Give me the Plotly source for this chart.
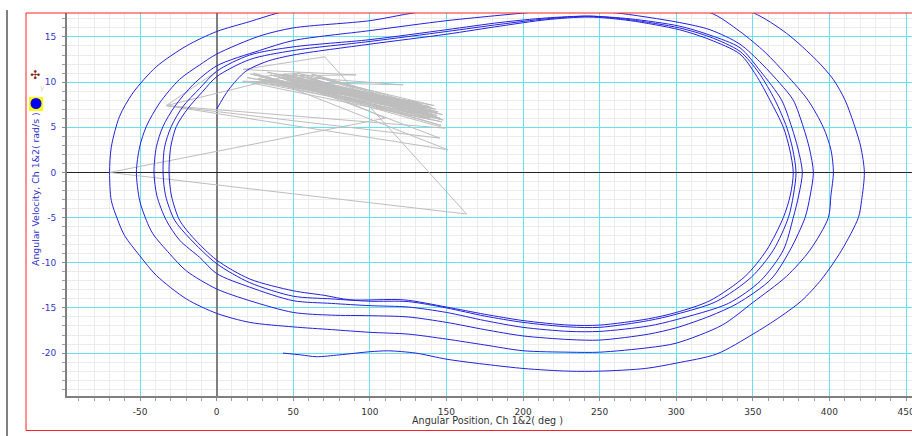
import plotly.graph_objects as go

# ---------------- data ----------------
x_tick_vals = [-50, 0, 50, 100, 150, 200, 250, 300, 350, 400, 450]
x_tick_text = ["-50", "0", "50", "100", "150", "200", "250", "300", "350", "400", "450"]
y_tick_vals = [-20, -15, -10, -5, 0, 5, 10, 15]
y_tick_text = ["-20", "-15", "-10", "-5", "0", "5", "10", "15"]

# blue phase trajectory, split into top (T) and bottom (B) half loops
t1_x = [0, 8, 19, 33, 50, 100, 150, 185, 215, 243, 270, 302, 322, 341.6, 352, 361.2, 369.9, 374, 376.4]
t1_y = [7, 9.2, 11.2, 12.3, 13.0, 14.2, 15.3, 16.2, 16.9, 17.2, 16.8, 15.8, 14.7, 13.1, 10.8, 8.0, 5.0, 2.6, 0]
b1_x = [376.4, 374.5, 369.9, 359, 345, 322, 300, 282, 250, 230, 200, 175, 150, 122, 87, 70, 50, 21.6, 0, -15.5, -24.2, -29.5, -31.1]
b1_y = [0, -2.5, -5, -8.6, -11.5, -14.2, -15.5, -16.2, -16.9, -16.9, -16.4, -15.7, -14.9, -14.1, -14.1, -13.6, -13.1, -11.8, -9.7, -7.2, -5.3, -2.6, 0]

t2_x = [-31.1, -30, -26.3, -18.7, -8.9, 0, 21.6, 50, 100, 150, 185, 215, 243, 270, 302, 322, 341.6, 354, 364.5, 372.1, 376, 378.2]
t2_y = [0, 2.8, 5.1, 7.1, 9.0, 10.6, 12.5, 13.5, 14.5, 15.6, 16.4, 17.0, 17.3, 16.9, 16.0, 15.0, 13.4, 11.0, 8.0, 5.0, 2.6, 0]
b2_x = [378.2, 376.5, 373.2, 363.4, 349, 326, 300, 282, 250, 230, 200, 175, 150, 125, 100, 75, 50, 21.6, 0, -17.6, -27.4, -33.3, -35]
b2_y = [0, -2.5, -5, -8.6, -11.6, -14.3, -15.7, -16.4, -17.15, -17.1, -16.6, -15.9, -15.0, -14.3, -14.26, -14.0, -13.7, -12.2, -10.1, -7.3, -5.3, -2.6, 0]

t3_x = [-35, -34, -29.6, -22, -11.1, 0, 21.6, 50, 100, 150, 185, 215, 243, 270, 302, 322, 341.6, 355, 368.8, 375.4, 379.5, 382.3]
t3_y = [0, 2.8, 5.1, 7.3, 9.3, 11.2, 13.0, 13.9, 14.7, 15.8, 16.6, 17.1, 17.3, 17.0, 16.2, 15.2, 13.8, 11.2, 8.0, 5.0, 2.6, 0]
b3_x = [382.3, 380, 376.4, 369.9, 355, 334, 300, 282, 250, 230, 200, 175, 150, 125, 100, 75, 50, 21.6, 0, -11.1, -24.2, -32.9, -39, -40.9]
b3_y = [0, -2.5, -5, -8.6, -12.0, -14.5, -16.3, -17.0, -17.6, -17.6, -17.15, -16.4, -15.5, -14.9, -14.75, -14.5, -14.2, -12.7, -11.2, -9.4, -7.5, -5.3, -2.6, 0]

t4_x = [-40.9, -39.4, -35, -27.4, -15.5, 0, 28, 50, 100, 150, 185, 204, 230, 259, 302, 322, 341.6, 356, 368, 376.4, 383, 387, 389.5]
t4_y = [0, 2.8, 5.1, 7.3, 9.7, 11.8, 13.5, 14.6, 15.7, 16.8, 17.4, 17.7, 18.0, 17.7, 16.6, 15.8, 14.2, 12.0, 9.8, 8.0, 5.0, 2.6, 0]
b4_x = [389.5, 387.5, 384.1, 374.3, 362, 340, 322, 300, 282, 250, 230, 200, 175, 150, 125, 100, 75, 50, 21.6, 0, -19.8, -30.7, -41.6, -45.9, -50.3, -52.4]
b4_y = [0, -2.5, -5, -8.6, -11.8, -14.5, -15.9, -17.2, -17.9, -18.56, -18.5, -18.1, -17.4, -16.6, -16.0, -15.86, -15.8, -15.5, -14.2, -12.9, -10.9, -9.0, -6.8, -5.3, -3.1, 0]

t5_x = [-52.4, -50.3, -45.9, -37.2, -24.2, -11.1, 0, 28, 50, 100, 130, 180, 230, 280, 322, 341.6, 358, 372, 386, 396, 401, 402.6]
t5_y = [0, 2.8, 5.1, 7.7, 10.3, 11.9, 13.1, 15.1, 16.0, 16.8, 17.7, 18.6, 19.0, 18.7, 17.7, 15.6, 13.3, 10.8, 8.0, 5.0, 2.5, 0]
b5_x = [402.6, 401, 399.3, 387.3, 372, 350, 330, 300, 282, 250, 230, 200, 175, 150, 125, 100, 75, 50, 21.6, 0, -19.8, -39.4, -50.3, -60.1, -64.5, -68.8, -69.9]
b5_y = [0, -2.5, -5, -8.6, -11.5, -14.4, -16.9, -18.9, -19.4, -19.9, -19.9, -19.74, -19.1, -18.45, -17.9, -17.7, -17.4, -17.1, -16.6, -15.6, -14.0, -11.4, -9.2, -7.0, -5.3, -3.1, 0]

t6_x = [-69.9, -68.8, -63.4, -54.7, -39.4, -19.8, 0, 21.6, 41, 100, 200, 300, 350, 372, 391.7, 402.5, 410.2, 416.7, 420.5, 422.8]
t6_y = [0, 2.8, 6.2, 8.8, 11.7, 14.0, 15.6, 16.7, 17.7, 20.0, 21.5, 20.0, 17.7, 15.4, 12.4, 10.3, 8.0, 5.0, 2.8, 0]
b6_x = [422.8, 421, 418.9, 408, 395, 381.9, 367.7, 350.1, 326.4, 300.3, 280, 250, 230, 200, 151, 130, 112, 100, 80, 65, 55, 43.3]
b6_y = [0, -3.1, -5, -8.6, -11.8, -14.2, -16.0, -17.9, -20.1, -21.1, -21.7, -22.0, -22.0, -21.7, -20.7, -20.0, -19.75, -19.85, -20.2, -20.4, -20.2, -20.0]

# grey noisy channel
gray_x = [2, -32.9, 145.7, 40, 139, 30, 144.5, 50, 142.4, 25, 135, 45, 140, 35, 146, 60, 138, 20,
          143, 55, 130, 38, 149, -32.9, 54.2, 28, 141, 48, 136, 65, 144, 32, 147, 17, 121.7, 42,
          91, 17.2, 70.5, 163.1, -70, 110, 52, 146, 44, 137, 58, 139.5, 22, 147.5, 33, 133, 47,
          148, 27, 141, 62, 145, 36, 138.5, 53, 142, 41, 146.5, 24, 151, -32.9]
gray_y = [11.4, 7.4, 3.8, 10.6, 7.3, 10.3, 6.7, 10.9, 6.2, 10.0, 7.4, 10.5, 6.9, 10.8, 6.0, 10.4, 6.6, 10.5,
          7.0, 10.1, 7.8, 10.2, 4.9, 7.4, 11.0, 10.6, 6.4, 10.2, 7.2, 10.6, 6.3, 10.0, 5.6, 10.1, 9.7, 10.7,
          10.8, 11.4, 12.8, -4.6, 0, 6.0, 10.3, 5.9, 10.9, 6.8, 10.0, 6.0, 10.9, 6.4, 11.1, 7.6, 10.7,
          5.8, 10.4, 7.1, 10.9, 6.5, 10.3, 5.9, 11.0, 7.4, 10.5, 5.2, 11.0, 2.5, 7.4]

# ---------------- build ----------------
segments = [(t1_x, t1_y), (b1_x, b1_y), (t2_x, t2_y), (b2_x, b2_y), (t3_x, t3_y), (b3_x, b3_y),
            (t4_x, t4_y), (b4_x, b4_y), (t5_x, t5_y), (b5_x, b5_y), (t6_x, t6_y), (b6_x, b6_y)]
blue_x, blue_y = [], []
for i, (sx, sy) in enumerate(segments):
    k = 0 if i == 0 else 1
    blue_x += list(sx[k:])
    blue_y += list(sy[k:])

FONT = "DejaVu Sans, Verdana, sans-serif"
BLUE_TXT = "#3535cc"
CYAN = "#66e3ef"
MINOR = "#ececec"

fig = go.Figure()
fig.add_trace(go.Scatter(x=gray_x, y=gray_y, mode="lines",
                         line=dict(color="#bdbdbd", width=1), hoverinfo="skip"))
fig.add_trace(go.Scatter(x=blue_x, y=blue_y, mode="lines",
                         line=dict(color="#2222e0", width=1, shape="spline", smoothing=0.8),
                         hoverinfo="skip"))

W, H = 912, 436
L, R, T, B = 67, 0, 13, 40
pw, ph = W - L - R, H - T - B


def px(xp):
    return (xp - L) / pw


def py(yp):
    return (H - B - yp) / ph


fig.update_layout(
    width=W, height=H,
    margin=dict(l=L, r=R, t=T, b=B, pad=0),
    paper_bgcolor="white", plot_bgcolor="white",
    showlegend=False,
    font=dict(family=FONT, size=9),
    xaxis=dict(range=[-97.7, 453.9], tickmode="array", tickvals=x_tick_vals, ticktext=x_tick_text,
               showgrid=True, gridcolor=CYAN, gridwidth=1,
               zeroline=True, zerolinecolor="#808080", zerolinewidth=2,
               showline=True, linecolor="#808080", linewidth=2,
               ticks="outside", ticklen=3, tickcolor="#909090", ticklabelstandoff=3,
               ticklabeloverflow="allow",
               tickfont=dict(family=FONT, size=9, color="#333333"),
               minor=dict(tickmode="linear", tick0=0, dtick=10, showgrid=True, gridcolor=MINOR,
                          ticks="outside", ticklen=3, tickcolor="#a0a0a0"),
               fixedrange=True, automargin=False),
    yaxis=dict(range=[-24.75, 17.65], tickmode="array", tickvals=y_tick_vals, ticktext=y_tick_text,
               showgrid=True, gridcolor=CYAN, gridwidth=1,
               zeroline=True, zerolinecolor="#222222", zerolinewidth=1,
               showline=True, linecolor="#808080", linewidth=2,
               ticks="outside", ticklen=3, tickcolor="#909090", ticklabelstandoff=4,
               tickfont=dict(family=FONT, size=9, color=BLUE_TXT),
               minor=dict(tickmode="linear", tick0=0, dtick=1, showgrid=True, gridcolor=MINOR,
                          ticks="outside", ticklen=3, tickcolor="#a0a0a0"),
               fixedrange=True, automargin=False),
    shapes=[
        dict(type="rect", xref="paper", yref="paper", x0=px(26), x1=px(925), y0=py(430.5), y1=1.0,
             line=dict(color="#ff2020", width=1), fillcolor="rgba(0,0,0,0)", layer="above"),
        dict(type="line", xref="paper", yref="paper", x0=px(7), x1=px(7), y0=py(440), y1=py(10),
             line=dict(color="#808080", width=2)),
        dict(type="rect", xref="paper", yref="paper", x0=px(29), x1=px(43), y0=py(111), y1=py(97),
             line=dict(width=0), fillcolor="#ffff00"),
        dict(type="circle", xref="paper", yref="paper", x0=px(30.5), x1=px(41.5), y0=py(109), y1=py(98),
             line=dict(width=0), fillcolor="#0000ee"),
    ],
    annotations=[
        dict(text="Angular Position, Ch 1&2( deg )", xref="paper", yref="paper",
             x=px(487.5), y=py(420), showarrow=False, xanchor="center", yanchor="middle",
             font=dict(family=FONT, size=9.6, color="#333333")),
        dict(text="Angular Velocity, Ch 1&2( rad/s )", xref="paper", yref="paper",
             x=px(35), y=py(189), showarrow=False, xanchor="center", yanchor="middle",
             textangle=-90, font=dict(family=FONT, size=9.4, color=BLUE_TXT)),
        dict(text="✣", xref="paper", yref="paper", x=px(35), y=py(75), showarrow=False,
             xanchor="center", yanchor="middle", font=dict(family=FONT, size=12, color="#8b2a1a")),
        dict(text="y", xref="paper", yref="paper", x=px(42), y=py(88), showarrow=False,
             xanchor="center", yanchor="middle", font=dict(family=FONT, size=7, color="#d0d0d0")),
    ],
)

fig.write_html("out.html", config={"displayModeBar": False},
               post_script="document.body.style.margin='0';document.body.style.overflow='hidden';")
